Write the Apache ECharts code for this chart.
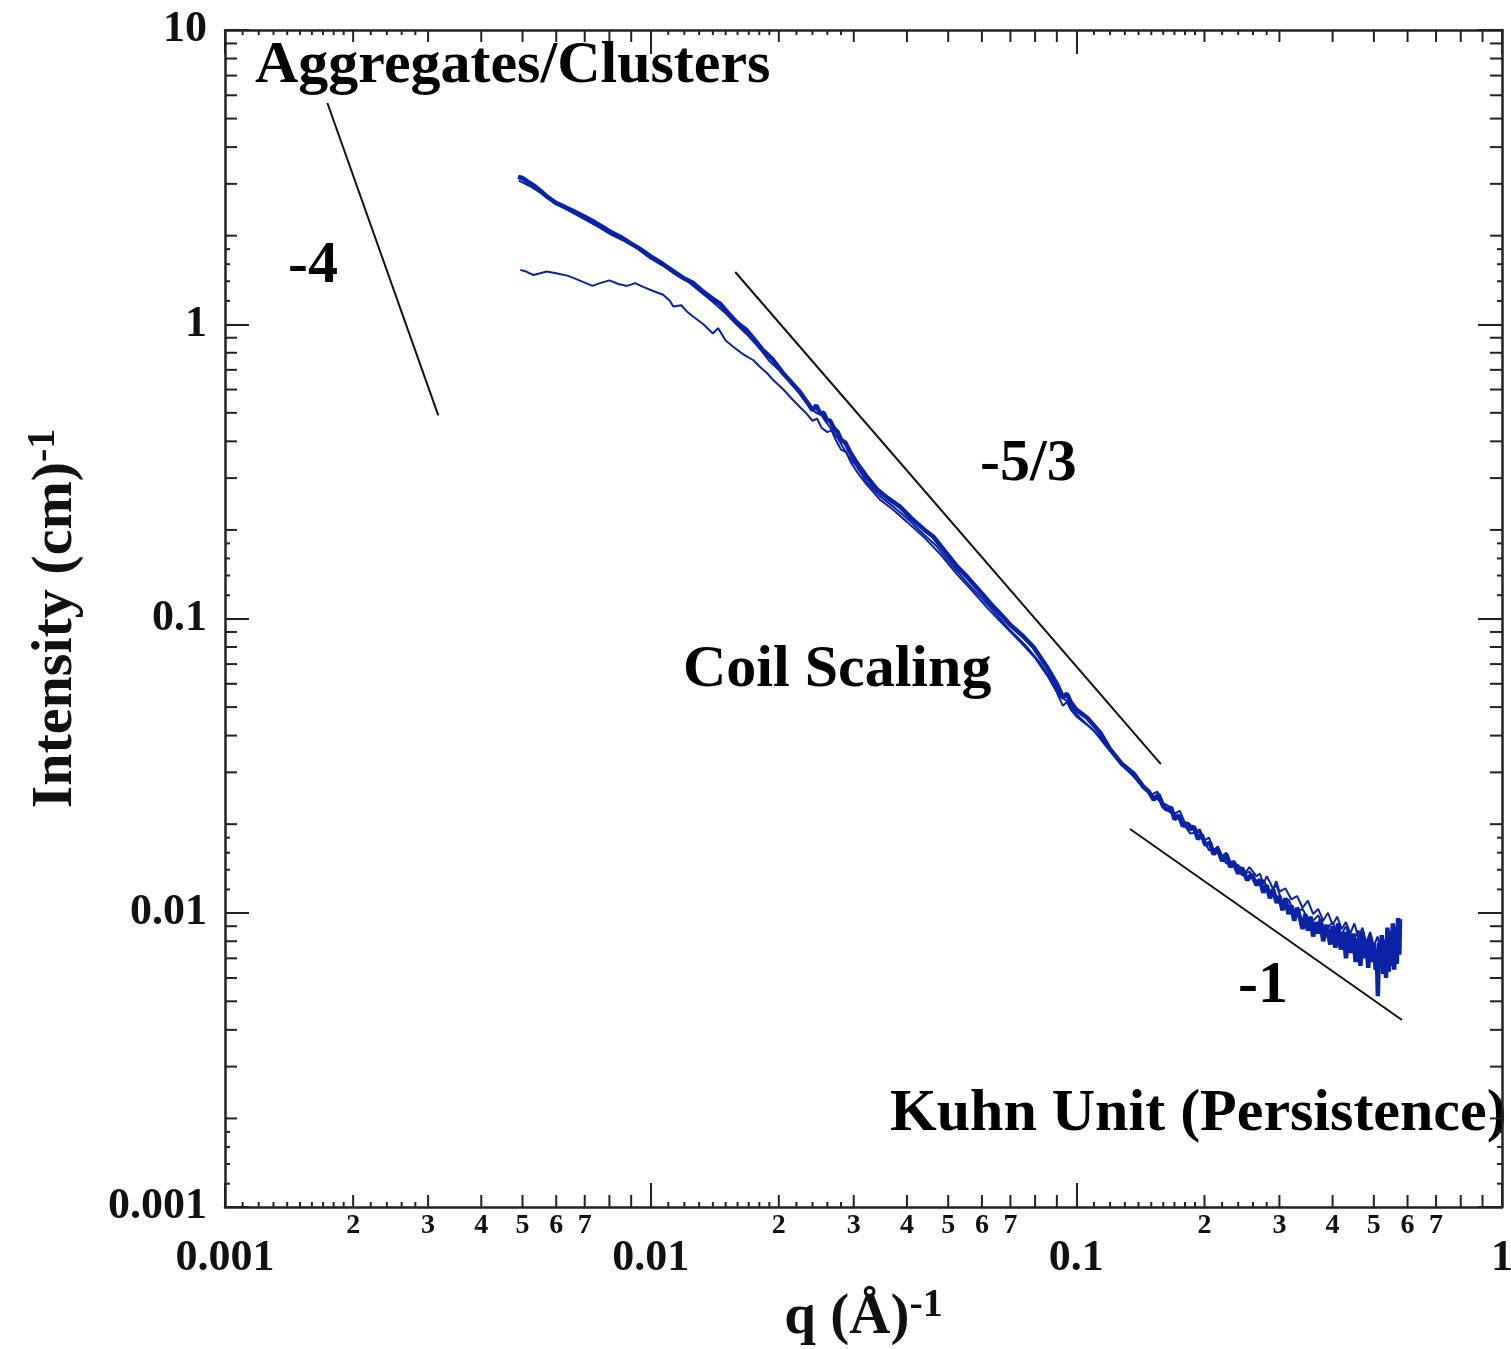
<!DOCTYPE html>
<html><head><meta charset="utf-8">
<script src="https://cdn.jsdelivr.net/npm/echarts@6/dist/echarts.min.js"></script>
<style>html,body{margin:0;padding:0;background:#fff}#c{width:1511px;height:1349px}</style>
</head><body><div id="c"></div>
<script>
// ---- data (q in 1/Å, intensity in 1/cm) ----
const qA = [0.00488,0.0050,0.0052,0.0053,0.0055,0.0057,0.0060,0.0063,0.0066,0.0070,0.0074,0.0078,0.0080,0.0085,0.0090,0.0094,0.0100,0.0105,0.0109,0.0115,0.0120,0.0126,0.0132,0.0140,0.0146,0.0153,0.0160,0.0168,0.0175,0.0183,0.0194,0.0205,0.0215,0.0224,0.0235,0.0240,0.0245,0.0250,0.0255,0.0259,0.0264,0.0269,0.0275,0.0280,0.0287,0.0294,0.0305,0.0322,0.0340,0.0360,0.0385,0.0410,0.0440,0.0461,0.0490,0.0525,0.0553,0.0590,0.0630,0.0662,0.0700,0.0750,0.0793,0.0850,0.0900,0.0930,0.0950,0.0970,0.1000,0.1060,0.1137,0.1200,0.1280,0.1361,0.1437,0.1480,0.1520,0.1560,0.1600,0.1631,0.1670,0.1700,0.1740,0.1780,0.1820,0.1849,0.1890,0.1930,0.1970,0.2010,0.2061,0.2100,0.2150,0.2200,0.2250,0.2300,0.2338,0.2400,0.2450,0.2520,0.2580,0.2653,0.2700,0.2750,0.2800,0.2850,0.2900,0.2956,0.3000,0.3050,0.3100,0.3150,0.3200,0.3250,0.3300,0.3353,0.3400,0.3450,0.3500,0.3550,0.3600,0.3650,0.3700,0.3750,0.3800,0.3872,0.3950,0.4000,0.4060,0.4120,0.4180,0.4250,0.4300,0.4360,0.4420,0.4474,0.4530,0.4600,0.4650,0.4700,0.4750,0.4800,0.4850,0.4900,0.4950,0.5000,0.5050,0.5077,0.5110,0.5140,0.5180,0.5220,0.5260,0.5300,0.5340,0.5380,0.5420,0.5460,0.5500,0.5540,0.5580,0.5620,0.5660,0.5700,0.5740,0.5760];
const iA = [3.17,3.14,3.02,2.97,2.85,2.72,2.58,2.50,2.42,2.32,2.22,2.12,2.07,1.98,1.88,1.81,1.70,1.63,1.57,1.49,1.43,1.38,1.30,1.22,1.17,1.08,1.01,0.955,0.89,0.82,0.756,0.68,0.63,0.59,0.535,0.51,0.530,0.498,0.50,0.473,0.47,0.445,0.43,0.405,0.395,0.368,0.338,0.303,0.275,0.257,0.240,0.219,0.200,0.190,0.170,0.150,0.139,0.125,0.112,0.104,0.095,0.087,0.080,0.069,0.060,0.054,0.0555,0.052,0.049,0.046,0.041,0.036,0.032,0.0298,0.0268,0.0258,0.0242,0.0252,0.0230,0.0224,0.0228,0.0208,0.0214,0.0197,0.0202,0.0192,0.0196,0.0178,0.0184,0.0170,0.0173,0.0158,0.0164,0.0150,0.0158,0.0143,0.0148,0.0136,0.0142,0.0129,0.0135,0.0124,0.0130,0.0117,0.0124,0.0112,0.0120,0.0108,0.0114,0.0102,0.0112,0.0099,0.0106,0.0094,0.0104,0.0096,0.0088,0.0099,0.0087,0.0097,0.0083,0.0093,0.0085,0.0095,0.0080,0.0091,0.0078,0.0090,0.0076,0.0092,0.0075,0.0086,0.0070,0.0087,0.0073,0.0085,0.0068,0.0082,0.0066,0.0086,0.0070,0.0080,0.0065,0.0083,0.0068,0.0078,0.0064,0.0075,0.0052,0.0079,0.0066,0.0084,0.0062,0.0080,0.0060,0.0089,0.0063,0.0087,0.0066,0.0092,0.0064,0.0090,0.0067,0.0096,0.0072,0.0095];

const qB = [0.00494,0.0051,0.0053,0.0055,0.0057,0.0060,0.0064,0.0068,0.0073,0.0076,0.0080,0.0084,0.0088,0.0092,0.0096,0.0101,0.0107,0.0111,0.0113,0.0118,0.0122,0.0126,0.0133,0.0140,0.0144,0.0150,0.0156,0.0165,0.0174,0.0180,0.0188,0.0194,0.0205,0.0216,0.0225,0.0232,0.0240,0.0246,0.0252,0.0260,0.0266,0.0272,0.0280,0.0288,0.0295,0.0310,0.0322,0.0345,0.0370,0.0400,0.0440,0.0480,0.0525,0.0570,0.0620,0.0680,0.0740,0.0800,0.0860,0.0900,0.0930,0.0950,0.0970,0.1000,0.1060,0.1140,0.1220,0.1300,0.1400,0.1450,0.1500,0.1550,0.1600,0.1650,0.1700,0.1750,0.1800,0.1850,0.1900,0.1950,0.2000,0.2050,0.2100,0.2150,0.2200,0.2250,0.2300,0.2400,0.2500,0.2550,0.2600,0.2650,0.2700,0.2750,0.2800,0.2850,0.2900,0.2950,0.3000,0.3100,0.3200,0.3300,0.3400,0.3500,0.3600,0.3700,0.3800,0.3900,0.4000,0.4100,0.4200,0.4300,0.4400,0.4500,0.4600,0.4700,0.4800,0.4900,0.5000,0.5100,0.5200,0.5300,0.5400,0.5500,0.5600,0.5700,0.5750];
const iB = [1.53,1.51,1.47,1.49,1.51,1.49,1.46,1.41,1.35,1.38,1.41,1.37,1.35,1.38,1.34,1.30,1.26,1.20,1.15,1.16,1.10,1.06,1.00,0.93,0.97,0.88,0.84,0.79,0.756,0.72,0.68,0.646,0.60,0.553,0.52,0.498,0.47,0.478,0.445,0.43,0.436,0.405,0.375,0.368,0.340,0.305,0.285,0.254,0.235,0.213,0.188,0.165,0.141,0.124,0.108,0.094,0.083,0.0735,0.063,0.056,0.0505,0.052,0.049,0.0465,0.0435,0.0395,0.0348,0.0310,0.0282,0.0266,0.0252,0.0258,0.0236,0.0230,0.0217,0.0222,0.0202,0.0200,0.0188,0.0192,0.0176,0.0180,0.0163,0.0168,0.0156,0.0160,0.0149,0.0145,0.0137,0.0143,0.0138,0.0133,0.0136,0.0125,0.0133,0.0127,0.0120,0.0128,0.0118,0.0121,0.0111,0.0114,0.0104,0.0110,0.0099,0.0103,0.0094,0.0100,0.0091,0.0097,0.0088,0.0093,0.0085,0.0092,0.0082,0.0089,0.0079,0.0086,0.0077,0.0083,0.0074,0.0081,0.0071,0.0079,0.0070,0.0082,0.0088];

const qC = [0.0049,0.0052,0.0055,0.0058,0.0062,0.0066,0.0070,0.0075,0.0080,0.0086,0.0092,0.0100,0.0107,0.0114,0.0122,0.0130,0.0140,0.0150,0.0160,0.0170,0.0180,0.0190,0.0200,0.0212,0.0225,0.0238,0.0245,0.0252,0.0262,0.0275,0.0290,0.0305,0.0322,0.0345,0.0370,0.0400,0.0435,0.0470,0.0510,0.0550,0.0600,0.0650,0.0700,0.0760,0.0820,0.0880,0.0920,0.0950,0.0980,0.1020,0.1100,0.1180,0.1260,0.1350,0.1450,0.1550,0.1650,0.1750,0.1850,0.1950,0.2050,0.2150,0.2250,0.2350,0.2450,0.2550,0.2650,0.2750,0.2850,0.2950,0.3050,0.3150,0.3250,0.3400,0.3550,0.3700,0.3850,0.4000,0.4150,0.4300,0.4450,0.4600,0.4750,0.4900,0.5050,0.5200,0.5350,0.5500,0.5650,0.5750];
const iC = [3.08,2.95,2.80,2.66,2.50,2.38,2.27,2.15,2.03,1.93,1.83,1.67,1.58,1.48,1.40,1.30,1.19,1.09,0.99,0.91,0.83,0.75,0.70,0.64,0.575,0.515,0.50,0.49,0.452,0.41,0.36,0.328,0.290,0.261,0.241,0.219,0.195,0.176,0.152,0.134,0.117,0.103,0.091,0.081,0.071,0.061,0.054,0.0525,0.049,0.046,0.0415,0.0365,0.0328,0.0295,0.0262,0.0244,0.0221,0.0210,0.0186,0.0188,0.0163,0.0165,0.0147,0.0150,0.0134,0.0138,0.0128,0.0129,0.0118,0.0124,0.0108,0.0111,0.0100,0.0103,0.0092,0.0098,0.0087,0.0093,0.0082,0.0090,0.0079,0.0087,0.0075,0.0084,0.0070,0.0081,0.0068,0.0083,0.0071,0.0086];

// power-law guide lines (endpoints)
const guide4Q = [0.00174, 0.00317];   const guide4I = [5.65, 0.49];
const guide53Q = [0.0158, 0.158];     const guide53I = [1.505, 0.032];
const guide1Q = [0.1337, 0.5823];     const guide1I = [0.01926, 0.00432];

// axis ticks
const xDecades = [0.001, 0.01, 0.1];
const yDecades = [0.001, 0.01, 0.1, 1];
const midMult = [2,3,4,5,6,7,8,9];
const xSmallMult = [1.1,1.2,1.3,1.4,1.5,1.6,1.7,1.8,1.9,2.2,2.4,2.6,2.8];
const ySmallMult = [1.2,1.4,1.6,1.8];
const xMinorLabels = [2,3,4,5,6,7];

const annotations = ['Aggregates/Clusters','-4','-5/3','Coil Scaling','-1','Kuhn Unit (Persistence)'];

// ---- chart ----
const FONT = "'Liberation Serif','Times New Roman',serif";
const BLUE = '#0a22a6';
const AX = '#222';

const xTickData = [], yTickData = [], xLabData = [];
xDecades.forEach(d => {
  midMult.forEach(m => xTickData.push([d*m, 1, 1]));
  xSmallMult.forEach(m => xTickData.push([d*m, 1, 0]));
  xMinorLabels.forEach(m => xLabData.push([d*m, 1, m]));
});
yDecades.forEach(d => {
  midMult.forEach(m => yTickData.push([0.01, d*m, 1]));
  ySmallMult.forEach(m => yTickData.push([0.01, d*m, 0]));
});

const pairs = (qs, is) => qs.map((q, k) => [q, is[k]]);
const fmt = v => String(+(+v).toPrecision(1));

const chart = echarts.init(document.getElementById('c'), null, {renderer: 'canvas'});
const tickStyle = {stroke: AX, lineWidth: 2};

chart.setOption({
  animation: false,
  backgroundColor: '#fff',
  grid: {left: 225, top: 30, right: 9, bottom: 142, containLabel: false, outerBoundsMode: 'none'},
  xAxis: [{
    type: 'log', logBase: 10, min: 0.001, max: 1, splitNumber: 3,
    axisLine: {show: true, lineStyle: {color: AX, width: 2.5}},
    axisTick: {show: true, inside: true, length: 24, lineStyle: {color: AX, width: 2}},
    minorTick: {show: false}, splitLine: {show: false},
    axisLabel: {formatter: fmt, margin: 30, fontFamily: FONT, fontWeight: 'bold', fontSize: 44, color: '#111', hideOverlap: false, showMaxLabel: true, showMinLabel: true},
    name: '{m|q (Å)}{s|-1}', nameLocation: 'middle', nameGap: 70,
    nameTextStyle: {rich: {
      m: {fontFamily: FONT, fontWeight: 'bold', fontSize: 57, color: '#111', lineHeight: 64},
      s: {fontFamily: FONT, fontWeight: 'bold', fontSize: 40, color: '#111', verticalAlign: 'top', lineHeight: 40}
    }}
  }, {
    type: 'log', logBase: 10, min: 0.001, max: 1, splitNumber: 3, position: 'top',
    axisLine: {show: true, lineStyle: {color: AX, width: 2.5}},
    axisTick: {show: true, inside: true, length: 24, lineStyle: {color: AX, width: 2}},
    axisLabel: {show: false}, splitLine: {show: false}
  }],
  yAxis: [{
    type: 'log', logBase: 10, min: 0.001, max: 10, splitNumber: 4,
    axisLine: {show: true, lineStyle: {color: AX, width: 2.5}},
    axisTick: {show: true, inside: true, length: 24, lineStyle: {color: AX, width: 2}},
    splitLine: {show: false},
    axisLabel: {formatter: fmt, margin: 18, fontFamily: FONT, fontWeight: 'bold', fontSize: 44, color: '#111', showMaxLabel: true, showMinLabel: true},
    name: '{m|Intensity (cm)}{s|-1}', nameLocation: 'middle', nameGap: 137, nameRotate: 90,
    nameTextStyle: {rich: {
      m: {fontFamily: FONT, fontWeight: 'bold', fontSize: 58, color: '#111', lineHeight: 64},
      s: {fontFamily: FONT, fontWeight: 'bold', fontSize: 40, color: '#111', verticalAlign: 'top', lineHeight: 40}
    }}
  }, {
    type: 'log', logBase: 10, min: 0.001, max: 10, splitNumber: 4, position: 'right',
    axisLine: {show: true, lineStyle: {color: AX, width: 2.5}},
    axisTick: {show: true, inside: true, length: 24, lineStyle: {color: AX, width: 2}},
    axisLabel: {show: false}, splitLine: {show: false}
  }],
  series: [
    {type: 'line', name: 'guide -4', data: pairs(guide4Q, guide4I), showSymbol: false, lineStyle: {color: '#111', width: 2}, z: 3},
    {type: 'line', name: 'guide -5/3', data: pairs(guide53Q, guide53I), showSymbol: false, lineStyle: {color: '#111', width: 2}, z: 3},
    {type: 'line', name: 'guide -1', data: pairs(guide1Q, guide1I), showSymbol: false, lineStyle: {color: '#111', width: 2}, z: 3},
    {type: 'line', name: 'B', data: pairs(qB, iB), showSymbol: false, lineStyle: {color: BLUE, width: 2}, z: 4},
    {type: 'line', name: 'C', data: pairs(qC, iC), showSymbol: false, lineStyle: {color: BLUE, width: 2}, z: 4},
    {type: 'line', name: 'A', data: pairs(qA, iA), showSymbol: false, lineStyle: {color: BLUE, width: 4.5}, z: 5},
    {
      type: 'custom', name: 'xMinorTicks', clip: false, silent: true,
      dimensions: ['x', 'y', 'k'], encode: {x: 0, y: 1},
      data: xTickData,
      renderItem: (params, api) => {
        const cs = params.coordSys;
        const x = api.coord([api.value(0), 1])[0];
        const len = api.value(2) === 1 ? 12 : 5;
        const yb = cs.y + cs.height, yt = cs.y;
        return {type: 'group', children: [
          {type: 'line', shape: {x1: x, y1: yb, x2: x, y2: yb - len}, style: tickStyle},
          {type: 'line', shape: {x1: x, y1: yt, x2: x, y2: yt + len}, style: tickStyle}
        ]};
      }
    },
    {
      type: 'custom', name: 'yMinorTicks', clip: false, silent: true,
      dimensions: ['x', 'y', 'k'], encode: {x: 0, y: 1},
      data: yTickData,
      renderItem: (params, api) => {
        const cs = params.coordSys;
        const y = api.coord([0.01, api.value(1)])[1];
        const len = api.value(2) === 1 ? 12 : 5;
        const xl = cs.x, xr = cs.x + cs.width;
        return {type: 'group', children: [
          {type: 'line', shape: {x1: xl, y1: y, x2: xl + len, y2: y}, style: tickStyle},
          {type: 'line', shape: {x1: xr, y1: y, x2: xr - len, y2: y}, style: tickStyle}
        ]};
      }
    },
    {
      type: 'custom', name: 'xMinorLabels', clip: false, silent: true,
      dimensions: ['x', 'y', 'k'], encode: {x: 0, y: 1},
      data: xLabData,
      renderItem: (params, api) => {
        const cs = params.coordSys;
        const x = api.coord([api.value(0), 1])[0];
        return {type: 'text', x: x, y: cs.y + cs.height + 19, style: {
          text: String(api.value(2)), fontFamily: FONT, fontWeight: 'bold', fontSize: 28,
          fill: '#111', align: 'center', verticalAlign: 'middle'
        }};
      }
    }
  ],
  graphic: [
    {type: 'text', left: 255, top: 36, style: {text: annotations[0], font: "bold 60px " + FONT, fill: '#000'}},
    {type: 'text', left: 288, top: 236, style: {text: annotations[1], font: "bold 60px " + FONT, fill: '#000'}},
    {type: 'text', left: 980, top: 434, style: {text: annotations[2], font: "bold 60px " + FONT, fill: '#000'}},
    {type: 'text', left: 683, top: 640, style: {text: annotations[3], font: "bold 60px " + FONT, fill: '#000'}},
    {type: 'text', left: 1238, top: 956, style: {text: annotations[4], font: "bold 60px " + FONT, fill: '#000'}},
    {type: 'text', left: 890, top: 1084, style: {text: annotations[5], font: "bold 60px " + FONT, fill: '#000'}}
  ]
});
</script>
</body></html>
